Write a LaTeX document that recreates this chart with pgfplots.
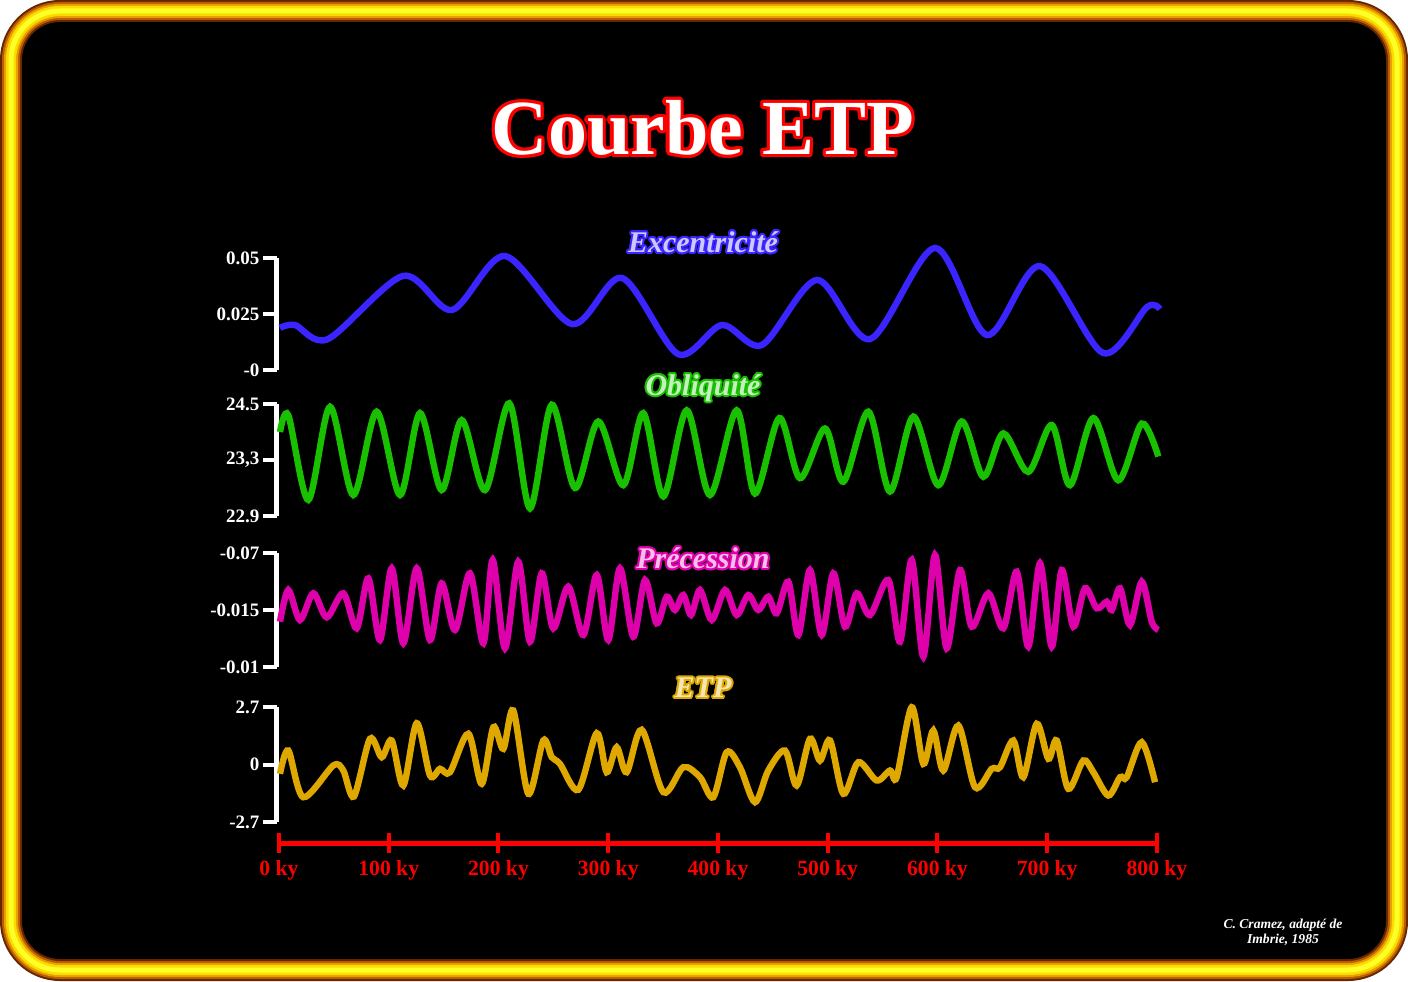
\documentclass[border=0pt]{standalone}
\usepackage{fontspec}
\setmainfont{Liberation Serif}
\usepackage{pgfplots}
\pgfplotsset{compat=1.18}
\definecolor{ecc}{RGB}{58,36,255}
\definecolor{obl}{RGB}{24,192,0}
\definecolor{pre}{RGB}{222,0,170}
\definecolor{etp}{RGB}{222,168,0}
\definecolor{bA}{RGB}{100,40,0}
\definecolor{bB}{RGB}{190,90,0}
\definecolor{bC}{RGB}{230,160,0}
\definecolor{bD}{RGB}{250,220,0}
\definecolor{bE}{RGB}{255,255,40}
\newcommand{\otext}[6]{%
  \foreach \a in {0,30,...,330}{\node[text=#4, font=#2, shift={(\a:#6)}] at (#1) {#5};}
  \node[text=#3, font=#2] at (#1) {#5};}
\pgfplotsset{panel/.style={scale only axis, width=440.1pt, xmin=-2, xmax=800,
  axis x line=none, axis y line=left, y axis line style={-, white, line width=2.5pt},
  ytick align=outside, major tick length=7pt, ytick style={white, line width=2pt},
  yticklabel style={white, font=\fontsize{9.5}{11}\selectfont\bfseries, inner sep=1.5pt},
  scaled y ticks=false,
  clip=false, xtick=\empty, anchor=south west}}
\begin{document}
\begin{tikzpicture}
\useasboundingbox (0,0) rectangle (704pt,490.5pt);
\path[fill=black, rounded corners=24.5pt] (5.5pt,5.5pt) rectangle (698.5pt,485pt);
\foreach \c/\w in {bA/11pt,bB/9pt,bC/7pt,bD/5pt,bE/2.5pt}{
  \draw[\c, line width=\w, rounded corners=24.5pt] (5.5pt,5.5pt) rectangle (698.5pt,485pt);}
\otext{351.5pt,426.5pt}{\fontsize{39}{44}\selectfont\bfseries}{white}{red}{Courbe ETP}{1.6pt}
\otext{351.5pt,369.5pt}{\fontsize{15}{18}\selectfont\bfseries\itshape}{ecc!25!white}{ecc}{Excentricité}{1pt}
\otext{351.5pt,296.5pt}{\fontsize{15}{18}\selectfont\bfseries\itshape}{obl!25!white}{obl}{Obliquité}{1pt}
\otext{351.5pt,211.5pt}{\fontsize{15}{18}\selectfont\bfseries\itshape}{pre!25!white}{pre}{Précession}{1pt}
\otext{351.5pt,146.5pt}{\fontsize{15}{18}\selectfont\bfseries\itshape}{etp!30!white}{etp}{ETP}{1pt}
\node[white, font=\fontsize{6.8}{7.6}\selectfont\bfseries\itshape, align=center] at (641.5pt,24.5pt) {C. Cramez, adapté de\\Imbrie, 1985};

\begin{axis}[panel, at={(138.4pt,305.5pt)}, height=56pt, ymin=0, ymax=0.05,
  ytick={0,0.025,0.05}, yticklabels={-0,0.025,0.05}]
\addplot[ecc, line width=3.2pt, smooth] coordinates {(0.9,0.0188)(14.6,0.0201)(44.6,0.0138)(113.0,0.0420)(157.6,0.0268)(205.9,0.0509)(267.0,0.0205)(312.5,0.0411)(363.6,0.0071)(403.6,0.0201)(440.1,0.0112)(490.2,0.0402)(538.5,0.0138)(597.7,0.0545)(645.1,0.0156)(693.4,0.0464)(750.8,0.0076)(790.9,0.0281)(802.7,0.0272)};
\end{axis}

\begin{axis}[panel, at={(138.4pt,232.5pt)}, height=56pt, ymin=22.9, ymax=24.5,
  ytick={22.9,23.7,24.5}, yticklabels={22.9,{23,3},24.5}]
\addplot[obl, line width=3.2pt, smooth] coordinates {(0.9,24.10)(8.5,24.34)(26.7,23.13)(46.5,24.46)(67.7,23.20)(89.0,24.39)(110.3,23.20)(128.5,24.37)(148.2,23.27)(166.5,24.27)(187.7,23.27)(209.8,24.51)(228.7,23.01)(248.5,24.49)(269.7,23.30)(290.9,24.25)(313.7,23.34)(331.9,24.37)(350.2,23.18)(371.5,24.41)(392.7,23.20)(417.0,24.41)(433.7,23.22)(455.9,24.30)(474.7,23.44)(497.5,24.15)(514.2,23.39)(537.0,24.39)(556.7,23.25)(578.0,24.32)(600.7,23.34)(622.0,24.25)(641.7,23.46)(660.0,24.08)(682.7,23.53)(704.1,24.20)(720.7,23.34)(742.0,24.30)(764.7,23.41)(786.1,24.22)(801.2,23.75)};
\end{axis}

\begin{axis}[panel, at={(138.4pt,157pt)}, height=57pt, ymin=-1, ymax=1,
  ytick={-1,0,1}, yticklabels={-0.01,-0.015,-0.07}]
\addplot[pre, line width=3.2pt, smooth] coordinates {(0.9,-0.205)(8.5,0.351)(19.1,-0.175)(31.3,0.293)(43.5,-0.128)(58.6,0.293)(70.8,-0.321)(81.4,0.556)(92.0,-0.526)(102.7,0.732)(113.3,-0.584)(125.5,0.732)(137.6,-0.526)(148.2,0.468)(160.4,-0.351)(174.0,0.644)(186.2,-0.584)(194.7,0.877)(205.9,-0.672)(218.0,0.847)(228.7,-0.556)(239.4,0.644)(249.9,-0.321)(263.6,0.409)(277.3,-0.439)(289.5,0.614)(300.0,-0.526)(310.7,0.732)(322.8,-0.468)(333.5,0.526)(344.1,-0.233)(353.3,0.233)(360.8,0)(368.4,0.263)(375.4,-0.088)(383.6,0.351)(394.3,-0.175)(406.4,0.351)(417.0,-0.088)(427.6,0.263)(436.7,0)(445.8,0.233)(453.5,-0.058)(464.1,0.496)(473.2,-0.439)(483.8,0.702)(494.5,-0.439)(505.1,0.644)(515.7,-0.293)(526.4,0.293)(538.5,-0.088)(555.2,0.526)(565.8,-0.556)(576.5,0.877)(587.1,-0.819)(597.7,0.965)(608.4,-0.672)(620.5,0.702)(631.2,-0.293)(646.3,0.293)(660.0,-0.321)(672.2,0.672)(682.7,-0.644)(693.4,0.819)(704.1,-0.644)(713.2,0.702)(723.8,-0.293)(734.4,0.381)(745.1,0.030)(754.2,0.146)(758.8,0)(766.3,0.381)(775.4,-0.263)(786.1,0.496)(795.2,-0.205)(801.2,-0.351)};
\end{axis}

\begin{axis}[panel, at={(138.4pt,79.5pt)}, height=57.5pt, ymin=-2.7, ymax=2.7,
  ytick={-2.7,0,2.7}, yticklabels={-2.7,0,2.7}]
\addplot[etp, line width=3.2pt, smooth] coordinates {(0.9,-0.437)(8.5,0.657)(22.1,-1.536)(49.5,-0.047)(58.6,-0.282)(68.3,-1.503)(82.9,1.207)(93.6,0.343)(102.7,1.127)(113.3,-0.986)(125.5,1.939)(137.6,-0.517)(146.7,-0.202)(155.8,-0.362)(172.5,1.442)(184.7,-0.906)(195.3,1.752)(204.4,0.737)(213.5,2.536)(227.2,-1.376)(240.8,1.127)(248.5,0.343)(256.0,0.033)(272.7,-1.188)(289.5,1.470)(298.6,-0.362)(307.7,0.812)(316.8,-0.362)(330.5,1.630)(350.2,-1.301)(368.4,-0.127)(383.6,-0.596)(395.7,-1.536)(407.9,0.578)(420.0,-0.127)(433.7,-1.770)(445.8,-0.282)(461.0,0.657)(471.7,-0.986)(483.8,1.207)(492.9,0.188)(502.1,1.127)(514.2,-1.376)(527.9,0.108)(544.6,-0.751)(556.7,-0.282)(562.8,-0.596)(576.5,2.691)(587.1,0.033)(596.2,1.597)(605.3,-0.282)(619.0,1.831)(634.2,-1.066)(649.4,-0.202)(657.0,-0.127)(669.1,1.127)(678.2,-0.596)(690.4,1.911)(701.0,0.268)(708.6,1.127)(719.2,-1.141)(732.9,0.188)(742.0,-0.362)(755.6,-1.456)(766.3,-0.596)(772.4,-0.596)(786.1,1.047)(798.2,-0.831)};
\end{axis}

\begin{axis}[scale only axis, width=439pt, height=10pt, at={(139.5pt,69pt)}, anchor=south west,
  xmin=0, xmax=800, ymin=0, ymax=1, axis y line=none, axis x line=bottom,
  x axis line style={-, red, line width=2.5pt},
  xtick={0,100,...,800}, xticklabels={0 ky,100 ky,200 ky,300 ky,400 ky,500 ky,600 ky,700 ky,800 ky},
  xtick align=center, major tick length=10pt, xtick style={red, line width=2pt},
  xticklabel style={red, font=\fontsize{10.8}{12}\selectfont\bfseries, inner sep=1pt, yshift=-2.5pt}]
\end{axis}
\end{tikzpicture}
\end{document}
